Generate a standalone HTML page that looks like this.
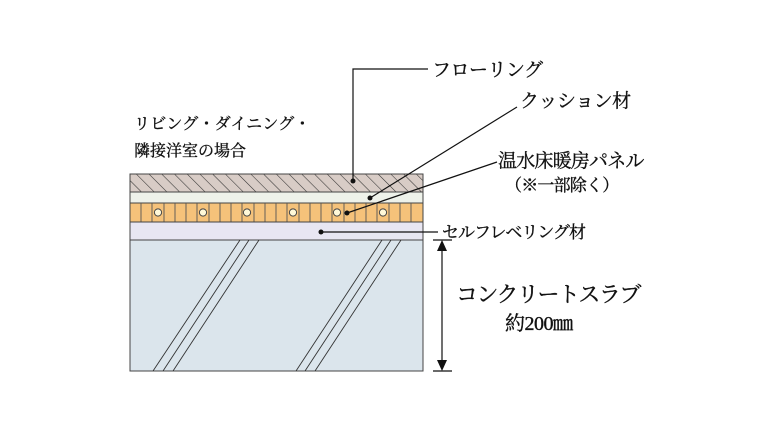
<!DOCTYPE html>
<html><head><meta charset="utf-8"><style>
html,body{margin:0;padding:0;background:#fff;}
svg text{font-family:"Liberation Serif","Noto Serif CJK SC",serif;fill:#111;stroke:#111;stroke-width:0.35;}
</style></head><body>
<svg width="760" height="440" viewBox="0 0 760 440" xmlns="http://www.w3.org/2000/svg">
<defs>
<pattern id="h" width="9" height="9" patternUnits="userSpaceOnUse" patternTransform="rotate(-45)">
<rect width="9" height="9" fill="#d8ccc6"/><line x1="0" y1="0" x2="0" y2="9" stroke="#333" stroke-width="1.1"/>
</pattern>
<clipPath id="c"><rect x="130" y="240" width="293" height="131"/></clipPath>
</defs>
<rect x="130" y="174" width="293" height="18" fill="url(#h)" stroke="#444" stroke-width="1"/>
<rect x="130" y="192" width="293" height="11" fill="#eef2ea" stroke="#444" stroke-width="1"/>
<rect x="130" y="203" width="293" height="19" fill="#f5c27a" stroke="#444" stroke-width="1"/>
<g stroke="#555" stroke-width="0.9">
<line x1="141" y1="203" x2="141" y2="222"/><line x1="152" y1="203" x2="152" y2="222"/><line x1="164" y1="203" x2="164" y2="222"/><line x1="175" y1="203" x2="175" y2="222"/><line x1="186" y1="203" x2="186" y2="222"/><line x1="197" y1="203" x2="197" y2="222"/><line x1="209" y1="203" x2="209" y2="222"/><line x1="220" y1="203" x2="220" y2="222"/><line x1="231" y1="203" x2="231" y2="222"/><line x1="242" y1="203" x2="242" y2="222"/><line x1="254" y1="203" x2="254" y2="222"/><line x1="265" y1="203" x2="265" y2="222"/><line x1="276" y1="203" x2="276" y2="222"/><line x1="287" y1="203" x2="287" y2="222"/><line x1="299" y1="203" x2="299" y2="222"/><line x1="310" y1="203" x2="310" y2="222"/><line x1="321" y1="203" x2="321" y2="222"/><line x1="332" y1="203" x2="332" y2="222"/><line x1="344" y1="203" x2="344" y2="222"/><line x1="355" y1="203" x2="355" y2="222"/><line x1="366" y1="203" x2="366" y2="222"/><line x1="377" y1="203" x2="377" y2="222"/><line x1="389" y1="203" x2="389" y2="222"/><line x1="400" y1="203" x2="400" y2="222"/><line x1="411" y1="203" x2="411" y2="222"/>
</g>
<g fill="#fff8d8" stroke="#444" stroke-width="1">
<circle cx="158" cy="212.5" r="3.6"/><circle cx="203" cy="212.5" r="3.6"/><circle cx="247" cy="212.5" r="3.6"/><circle cx="293" cy="212.5" r="3.6"/><circle cx="337" cy="212.5" r="3.6"/><circle cx="383" cy="212.5" r="3.6"/>
</g>
<rect x="130" y="222" width="293" height="18" fill="#e8e6f2" stroke="#444" stroke-width="1"/>
<rect x="130" y="240" width="293" height="131" fill="#dbe5ec" stroke="#444" stroke-width="1"/>
<g clip-path="url(#c)" stroke="#333" stroke-width="0.9">
<line x1="153" y1="371" x2="240" y2="240"/><line x1="163" y1="371" x2="249" y2="240"/><line x1="173" y1="371" x2="259" y2="240"/>
<line x1="296" y1="371" x2="382" y2="240"/><line x1="305" y1="371" x2="391" y2="240"/><line x1="315" y1="371" x2="401" y2="240"/>
</g>
<g stroke="#111" stroke-width="1.2" fill="none">
<polyline points="353,181 353,69 428,69"/>
<line x1="370" y1="198" x2="517" y2="107"/>
<line x1="347" y1="213" x2="497" y2="162"/>
<line x1="321" y1="232" x2="438" y2="232"/>
<line x1="442" y1="246" x2="442" y2="365"/>
<line x1="433" y1="240" x2="452" y2="240"/>
<line x1="433" y1="371" x2="452" y2="371"/>
</g>
<polygon points="442,240 437,251 447,251" fill="#111"/>
<polygon points="442,371 437,360 447,360" fill="#111"/>
<g fill="#111"><circle cx="353" cy="181" r="2.5"/><circle cx="370" cy="198" r="2.5"/><circle cx="347" cy="213" r="2.5"/><circle cx="321" cy="232" r="2.5"/></g>
<text x="432" y="76" font-size="19" letter-spacing="-0.5">フローリング</text>
<text x="520" y="107" font-size="19" letter-spacing="-0.5">クッション材</text>
<text x="498" y="167" font-size="19" letter-spacing="-0.8">温水床暖房パネル</text>
<text x="505" y="191" font-size="17" letter-spacing="-0.8">（※一部除く）</text>
<text x="442" y="238" font-size="17" letter-spacing="-1">セルフレベリング材</text>
<text x="134" y="129" font-size="16" letter-spacing="0.2">リビング・ダイニング・</text>
<text x="134" y="156" font-size="16">隣接洋室の場合</text>
<text x="456" y="302" font-size="22" letter-spacing="-1.5">コンクリートスラブ</text>
<text x="505" y="330" font-size="20" letter-spacing="-0.5">約200㎜</text>
</svg>
</body></html>
